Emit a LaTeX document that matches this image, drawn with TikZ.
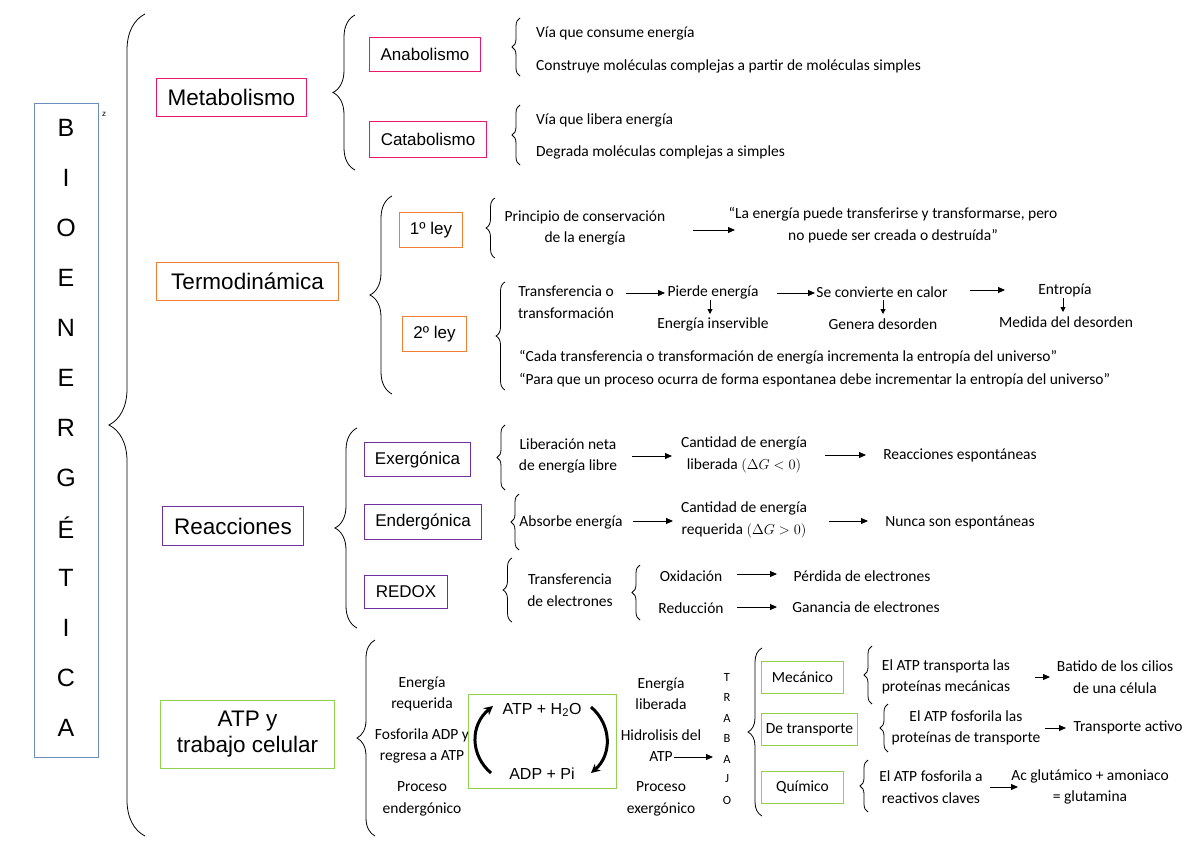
\documentclass[tikz,border=0pt]{standalone}
\usepackage{fontspec}
\setmainfont{Carlito}
\newfontfamily\arialf{Liberation Sans}
\usetikzlibrary{decorations.pathreplacing,arrows.meta}
\definecolor{mag}{HTML}{E8186D}
\definecolor{org}{HTML}{F07F32}
\definecolor{pur}{HTML}{7030A0}
\definecolor{grn}{HTML}{92D050}
\definecolor{blu}{HTML}{6A8EBF}
\begin{document}
\begin{tikzpicture}[x=1pt,y=-1pt,
  big/.style={draw,line width=1pt,font=\arialf\fontsize{22.5}{26}\selectfont,align=center,inner sep=0pt,anchor=north west},
  mid/.style={draw,line width=1pt,font=\arialf\fontsize{17}{20}\selectfont,inner sep=0pt,anchor=north west},
  sm/.style={font=\fontsize{15.5}{21.5}\selectfont,align=center,inner sep=1pt},
  br/.style={decorate,decoration={brace,amplitude=#1},line width=0.8pt},
  arr/.style={-{Triangle[length=7pt,width=6pt]},line width=0.9pt},
  darr/.style={-{Triangle[length=5pt,width=5pt]},line width=0.9pt},
  cyc/.style={-{Stealth[length=9pt,width=9pt]},line width=3pt}]
\useasboundingbox (0,0) rectangle (1200,849);
% title column
\node[draw=blu,line width=1pt,minimum width=64pt,minimum height=654pt,anchor=north west] (bio) at (34,103) {};
\foreach \l [count=\i] in {B,I,O,E,N,E,R,G,É,T,I,C,A}
  \node[font=\arialf\fontsize{25}{25}\selectfont] (b\i) at (66,78+50*\i) {\l};
\node[font=\arialf\fontsize{8}{8}\selectfont] (z) at (104,114) {z};
\draw[br=36pt] (145,836) -- (145,14);
% Metabolismo
\node[big,draw=mag,minimum width=150pt,minimum height=38pt] (met) at (156,78) {Metabolismo};
\draw[br=22pt] (355,170) -- (355,15);
\node[mid,draw=mag,minimum width=111pt,minimum height=34pt] (ana) at (369,37) {Anabolismo};
\node[mid,draw=mag,minimum width=117pt,minimum height=36pt] (cat) at (369,121) {Catabolismo};
\draw[br=8pt] (520,76) -- (520,18);
\draw[br=8pt] (520,165) -- (520,105);
\node[sm,anchor=west] (a1) at (535,34) {Vía que consume energía};
\node[sm,anchor=west] (a2) at (535,66) {Construye moléculas complejas a partir de moléculas simples};
\node[sm,anchor=west] (c1) at (535,120) {Vía que libera energía};
\node[sm,anchor=west] (c2) at (535,152) {Degrada moléculas complejas a simples};
% Termodinamica
\node[big,draw=org,minimum width=182pt,minimum height=38pt] (ter) at (156,262) {Termodinámica};
\draw[br=22pt] (392,394) -- (392,196);
\node[mid,draw=org,minimum width=63pt,minimum height=35pt] (l1) at (399,212) {1º ley};
\node[mid,draw=org,minimum width=64pt,minimum height=35pt] (l2) at (402,316) {2º ley};
\draw[br=9pt] (495,258) -- (495,198);
\node[sm] (pc) at (585,228) {Principio de conservación\\de la energía};
\node[sm] (q1) at (893,225) {“La energía puede transferirse y transformarse, pero\\no puede ser creada o destruída”};
\draw[arr] (693,230) coordinate (pa) -- (735,230) coordinate (pb);
\draw[br=9pt] (505,390) -- (505,282);
\node[sm] (tt) at (566,302) {Transferencia o\\transformación};
\node[sm] (pe) at (713,292) {Pierde energía};
\node[sm] (ei) at (713,324) {Energía inservible};
\node[sm] (sc) at (882,292) {Se convierte en calor};
\node[sm] (gd) at (883,324) {Genera desorden};
\node[sm] (en) at (1065,290) {Entropía};
\node[sm] (md) at (1066,322) {Medida del desorden};
\draw[arr] (626,293) -- (665,293);
\draw[arr] (777,293) -- (815,293);
\draw[arr] (970,290) -- (1005,290);
\draw[darr] (710,300) -- (710,314);
\draw[darr] (883,300) -- (883,314);
\draw[darr] (1063,298) -- (1063,312);
\node[sm,anchor=west] (q2) at (518,357) {“Cada transferencia o transformación de energía incrementa la entropía del universo”};
\node[sm,anchor=west] (q3) at (518,380) {“Para que un proceso ocurra de forma espontanea debe incrementar la entropía del universo”};
% Reacciones
\node[big,draw=pur,minimum width=141pt,minimum height=39pt] (rea) at (162,506) {Reacciones};
\draw[br=22pt] (357,628) -- (357,428);
\node[mid,draw=pur,minimum width=106pt,minimum height=34pt] (exe) at (364,442) {Exergónica};
\node[mid,draw=pur,minimum width=117pt,minimum height=35pt] (end) at (364,504) {Endergónica};
\node[mid,draw=pur,minimum width=83pt,minimum height=33pt] (red) at (364,575) {REDOX};
\draw[br=8pt] (505,490) -- (505,425);
\draw[br=8pt] (519,550) -- (519,494);
\draw[br=9pt] (512,622) -- (512,558);
\node[sm] (ln) at (568,456) {Liberación neta\\de energía libre};
\node[sm] (cl) at (744,455) {Cantidad de energía\\liberada $\left(\Delta G<0\right)$};
\node[sm] (re) at (960,455) {Reacciones espontáneas};
\draw[arr] (632,456) -- (672,456);
\draw[arr] (825,455) -- (866,455);
\node[sm] (ab) at (571,522) {Absorbe energía};
\node[sm] (cr) at (744,520) {Cantidad de energía\\requerida $\left(\Delta G>0\right)$};
\node[sm] (ne) at (960,522) {Nunca son espontáneas};
\draw[arr] (633,521) -- (673,521);
\draw[arr] (829,521) -- (868,521);
\node[sm] (te) at (570,590) {Transferencia\\de electrones};
\draw[br=8pt] (640,620) -- (640,565);
\node[sm] (ox) at (691,576) {Oxidación};
\node[sm] (rd) at (691,608) {Reducción};
\node[sm] (pd) at (862,576) {Pérdida de electrones};
\node[sm] (gn) at (866,607) {Ganancia de electrones};
\draw[arr] (737,574) -- (777,574);
\draw[arr] (737,607) -- (777,607);
% ATP
\node[big,draw=grn,minimum width=174pt,minimum height=68pt] (atp) at (160,700) {ATP y\\trabajo celular};
\draw[br=18pt] (375,836) -- (375,640);
\node[sm] (er) at (422,694) {Energía\\requerida};
\node[sm] (fa) at (422,746) {Fosforila ADP y\\regresa a ATP};
\node[sm] (pen) at (422,799) {Proceso\\endergónico};
\node[draw=grn,line width=1pt,minimum width=148pt,minimum height=94pt,anchor=north west] (cyc) at (468,694) {};
\node[font=\arialf\fontsize{16}{18}\selectfont] (t1) at (542,710) {ATP + H\textsubscript{2}O};
\node[font=\arialf\fontsize{16}{18}\selectfont] (t2) at (542,774) {ADP + Pi};
\draw[cyc] (491,773) .. controls (470,755) and (470,725) .. (493,706);
\draw[cyc] (591,707) .. controls (612,725) and (612,755) .. (591,773);
\node[sm] (el) at (661,694) {Energía\\liberada};
\node[sm] (hi) at (661,735) {Hidrolisis del};
\node[sm] (ha) at (661,757) {ATP};
\draw[arr] (ha.east) -- (713,757);
\node[sm] (pex) at (661,799) {Proceso\\exergónico};
\foreach \l/\y [count=\i] in {T/677,R/697,A/718,B/738,A/759,J/779,O/800}
  \node[font=\fontsize{12.5}{12}\selectfont] (tr\i) at (727,\y) {\l};
\draw[br=14pt] (762,816) -- (762,648);
\node[mid,draw=grn,font=\fontsize{15.5}{16}\selectfont,minimum width=82pt,minimum height=32pt] (mec) at (761,661) {Mecánico};
\node[mid,draw=grn,font=\fontsize{15.5}{16}\selectfont,minimum width=96pt,minimum height=32pt] (dtr) at (761,713) {De transporte};
\node[mid,draw=grn,font=\fontsize{15.5}{16}\selectfont,minimum width=82pt,minimum height=32pt] (qui) at (761,771) {Químico};
\draw[br=8pt] (872,704) -- (872,646);
\draw[br=8pt] (888,752) -- (888,704);
\draw[br=8pt] (868,812) -- (868,760);
\node[sm] (m1) at (946,677) {El ATP transporta las\\proteínas mecánicas};
\node[sm] (m2) at (1115,677) {Batido de los cilios\\de una célula};
\draw[arr] (1035,677) -- (1050,677);
\node[sm] (d1) at (966,728) {El ATP fosforila las\\proteínas de transporte};
\node[sm] (d2) at (1128,727) {Transporte activo};
\draw[arr] (1045,728) -- (1066,728);
\node[sm] (q1a) at (931,787) {El ATP fosforila a\\reactivos claves};
\node[sm] (q2a) at (1090,787) {Ac glutámico + amoniaco\\= glutamina};
\draw[arr] (990,787) -- (1018,787);
\end{tikzpicture}
\end{document}
